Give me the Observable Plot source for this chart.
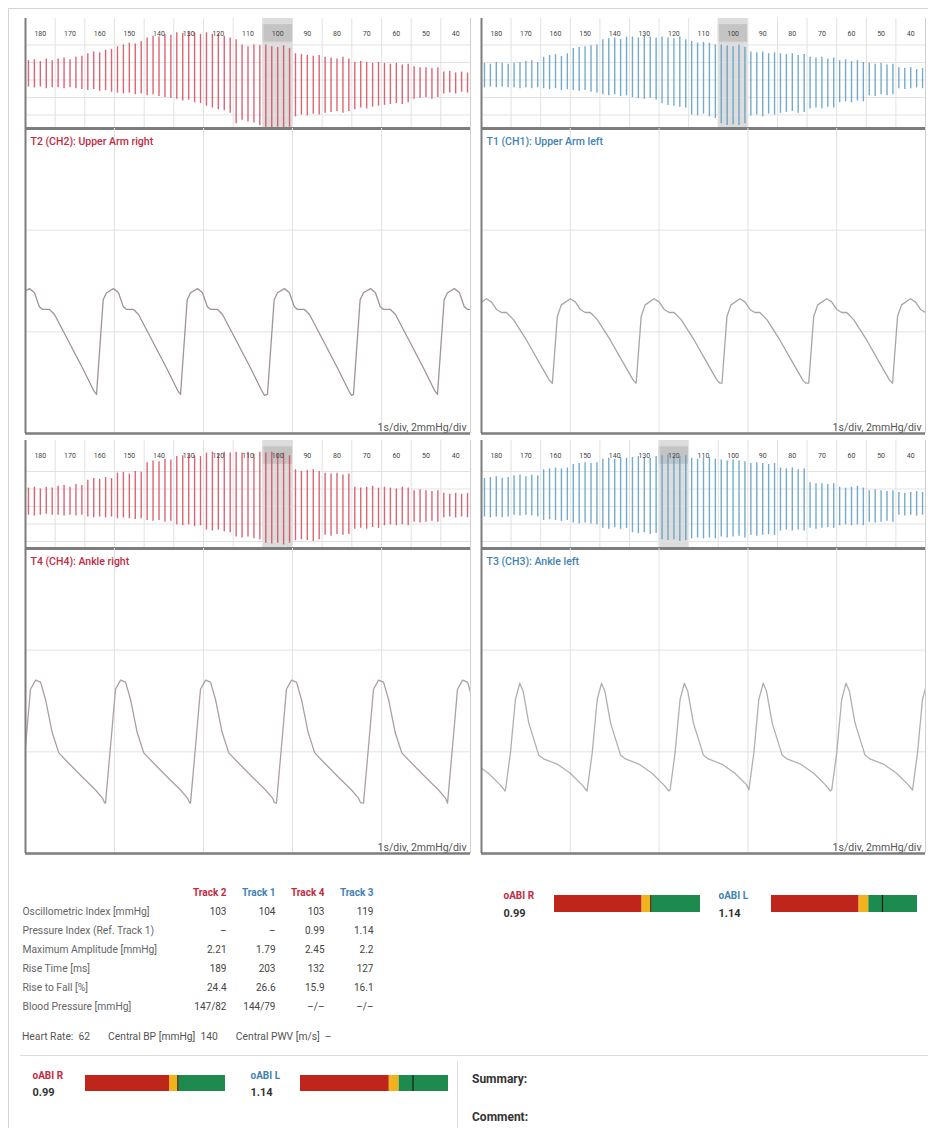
<!DOCTYPE html>
<html><head><meta charset="utf-8">
<script src="https://cdn.jsdelivr.net/npm/d3@7"></script>
<script src="https://cdn.jsdelivr.net/npm/@observablehq/plot@0.6"></script>
<style>
body{margin:0;background:#fff;font-family:Roboto,"Open Sans",sans-serif;}
#page{position:relative;width:928px;height:1128px;overflow:hidden;background:#fff;}
.abs{position:absolute;}
.txt{position:absolute;white-space:nowrap;}
</style></head><body><div id="page"></div>
<script>
// ---------------- DATA ----------------
const cuffLabels = [180,170,160,150,140,130,120,110,100,90,80,70,60,50,40];
const cuffBounds = [175,165,155,145,135,125,115,105,95,85,75,65,55,45];
const cuffRange = [185,35];
const stripGrid = [-2,-1,0,1,2];
const waveGridSec = [1,2,3,4];
const waveGridMmHg = [2,4];
const scaleText = "1s/div, 2mmHg/div";

const titles = ["T2 (CH2): Upper Arm right","T1 (CH1): Upper Arm left","T4 (CH4): Ankle right","T3 (CH3): Ankle left"];

// oscillogram pulse envelopes (upper / lower deflection per pulse, strip units)
const tlHi = [1.1,1.15,1.05,1.2,1.1, 1.2,1.25,1.15,1.3,1.35, 1.5,1.6,1.55,1.7,1.75, 1.9,2.0,2.1,2.05,2.2, 2.4,2.5,2.45,2.6,2.55, 2.7,2.65,2.75,2.7,2.6, 2.7,2.6,2.65,2.5,2.4, 2.3,2.0,1.9,2.0,1.95, 2.0,1.9,1.85,1.95,1.8, 1.5,1.45,1.4,1.35,1.4, 1.3,1.25,1.2,1.3,1.2, 1.0,1.05,1.0,0.95,1.0, 0.95,0.9,0.95,0.85,0.9, 0.75,0.7,0.7,0.65,0.7, 0.45,0.5,0.4,0.45,0.4];
const tlLo = [-0.4,-0.45,-0.4,-0.5,-0.45, -0.45,-0.5,-0.45,-0.5,-0.55, -0.6,-0.55,-0.65,-0.6,-0.7, -0.75,-0.8,-0.75,-0.85,-0.8, -0.9,-0.85,-0.95,-1.0,-1.05, -1.1,-1.2,-1.15,-1.3,-1.35, -1.5,-1.6,-1.7,-1.75,-1.9, -2.5,-2.3,-2.4,-2.45,-2.6, -2.7,-2.75,-2.7,-2.75,-2.7, -2.1,-2.0,-2.05,-1.95,-2.0, -1.9,-1.85,-1.8,-1.9,-1.8, -1.7,-1.6,-1.65,-1.55,-1.5, -1.45,-1.4,-1.35,-1.4,-1.3, -1.1,-1.05,-1.0,-1.1,-1.0, -0.8,-0.75,-0.8,-0.7,-0.75];
const trHi = [0.95,0.9,1.0,0.95,0.9, 0.95,1.0,1.05,1.1,1.0, 1.3,1.4,1.45,1.35,1.5, 1.8,1.85,1.9,1.95,2.0, 2.3,2.35,2.4,2.3,2.45, 2.45,2.4,2.5,2.45,2.4, 2.45,2.4,2.35,2.45,2.3, 2.2,2.1,2.15,2.1,2.0, 2.0,1.95,1.9,2.0,1.85, 1.6,1.55,1.6,1.5,1.55, 1.5,1.45,1.5,1.4,1.45, 1.3,1.25,1.3,1.2,1.25, 1.1,1.15,1.05,1.1,1.0, 0.95,0.9,0.95,0.85,0.9, 0.7,0.65,0.7,0.6,0.65];
const trLo = [-0.45,-0.4,-0.45,-0.4,-0.45, -0.45,-0.5,-0.45,-0.5,-0.45, -0.5,-0.55,-0.5,-0.6,-0.55, -0.6,-0.65,-0.6,-0.7,-0.75, -0.85,-0.9,-0.85,-0.95,-0.9, -1.0,-1.05,-1.1,-1.05,-1.15, -1.35,-1.45,-1.5,-1.55,-1.6, -2.0,-2.05,-1.95,-2.1,-2.2, -2.5,-2.6,-2.55,-2.6,-2.5, -2.05,-2.0,-2.1,-1.95,-2.0, -1.9,-1.85,-1.8,-1.9,-1.85, -1.65,-1.6,-1.65,-1.55,-1.6, -1.3,-1.25,-1.3,-1.2,-1.25, -0.9,-0.95,-0.85,-0.9,-0.85, -0.5,-0.55,-0.5,-0.45,-0.5];
const blHi = [1.05,1.1,1.0,1.1,1.05, 1.15,1.2,1.1,1.25,1.2, 1.5,1.6,1.55,1.65,1.6, 1.9,1.95,1.85,2.0,1.95, 2.5,2.6,2.55,2.7,2.65, 2.85,2.9,2.95,2.9,2.85, 3.05,3.1,3.0,3.1,3.05, 3.1,3.05,3.1,3.0,3.1, 3.05,3.1,3.0,3.05,2.9, 2.1,2.0,2.05,2.1,2.0, 1.9,1.85,1.9,1.8,1.85, 1.1,1.05,1.1,1.15,1.05, 1.1,1.05,1.0,1.1,1.05, 0.9,0.95,0.9,0.85,0.9, 0.75,0.7,0.75,0.7,0.75];
const blLo = [-0.5,-0.55,-0.5,-0.45,-0.5, -0.5,-0.55,-0.5,-0.55,-0.5, -0.6,-0.65,-0.6,-0.65,-0.6, -0.7,-0.65,-0.7,-0.75,-0.7, -0.8,-0.85,-0.8,-0.9,-0.85, -1.05,-1.1,-1.05,-1.15,-1.1, -1.35,-1.4,-1.35,-1.45,-1.5, -1.75,-1.8,-1.75,-1.85,-1.9, -2.1,-2.15,-2.1,-2.2,-2.1, -1.95,-1.9,-1.95,-2.0,-1.9, -1.65,-1.7,-1.6,-1.65,-1.6, -1.3,-1.25,-1.3,-1.2,-1.25, -1.1,-1.05,-1.1,-1.05,-1.1, -0.9,-0.95,-0.9,-0.85,-0.9, -0.65,-0.6,-0.65,-0.6,-0.65];
const brHi = [1.6,1.65,1.7,1.6,1.65, 1.75,1.8,1.7,1.8,1.75, 2.1,2.15,2.2,2.15,2.2, 2.4,2.45,2.5,2.45,2.5, 2.7,2.75,2.7,2.8,2.75, 2.8,2.85,2.8,2.75,2.85, 2.9,2.95,2.9,2.85,2.9, 2.75,2.7,2.75,2.8,2.7, 2.65,2.6,2.65,2.6,2.55, 2.45,2.5,2.45,2.4,2.45, 2.2,2.15,2.2,2.1,2.15, 1.35,1.3,1.3,1.25,1.3, 1.1,1.05,1.1,1.15,1.05, 0.9,0.95,0.9,0.85,0.9, 0.8,0.75,0.8,0.85,0.8];
const brLo = [-0.6,-0.65,-0.6,-0.65,-0.6, -0.5,-0.55,-0.5,-0.55,-0.6, -0.8,-0.75,-0.8,-0.85,-0.8, -0.95,-1.0,-0.95,-1.0,-1.05, -1.25,-1.3,-1.2,-1.3,-1.25, -1.5,-1.55,-1.5,-1.6,-1.55, -1.9,-1.95,-1.9,-2.0,-1.95, -1.85,-1.8,-1.85,-1.8,-1.85, -1.75,-1.8,-1.75,-1.7,-1.8, -1.65,-1.7,-1.65,-1.6,-1.65, -1.4,-1.35,-1.4,-1.35,-1.4, -1.25,-1.3,-1.25,-1.2,-1.25, -1.1,-1.05,-1.1,-1.05,-1.1, -0.9,-0.95,-0.9,-0.85,-0.9, -0.5,-0.55,-0.5,-0.55,-0.5];

// pulse waveform: one beat shape (s, mmHg) and beat onsets (s)
const tlBeatT = [0,0.075,0.112,0.191,0.247,0.300,0.337,0.416,0.472,0.640,0.798,0.910,0.944];
const tlBeatP = [0.77,2.63,2.77,2.85,2.77,2.50,2.44,2.44,2.34,1.78,1.25,0.85,0.75];
const tlOnsets = [-0.146,0.798,1.742,2.719,3.685,4.629];
const trBeatT = [0,0.056,0.101,0.202,0.258,0.315,0.371,0.427,0.506,0.652,0.798,0.910,0.944];
const trBeatP = [0.99,2.30,2.53,2.65,2.59,2.44,2.38,2.38,2.24,1.84,1.39,1.05,0.99];
const trOnsets = [-0.146,0.798,1.742,2.708,3.685,4.629];
const blBeatT = [0,0.056,0.112,0.169,0.225,0.281,0.356,0.430,0.539,0.697,0.843,0.921,0.944];
const blBeatP = [0.99,2.10,3.23,3.41,3.37,3.03,2.38,1.98,1.78,1.50,1.25,1.09,1.0];
const blOnsets = [-0.056,0.899,1.854,2.820,3.798,4.742];
const brBeatT = [0,0.056,0.112,0.161,0.199,0.262,0.374,0.430,0.581,0.730,0.862,0.918];
const brBeatP = [1.25,1.98,3.03,3.35,3.19,2.57,1.94,1.86,1.76,1.58,1.35,1.23];
const brOnsets = [-0.652,0.270,1.191,2.124,3.011,3.944,4.854];

// table
const tableTracks = ["Track 2","Track 1","Track 4","Track 3"];
const rowLabels = ["Oscillometric Index [mmHg]","Pressure Index (Ref. Track 1)","Maximum Amplitude [mmHg]","Rise Time [ms]","Rise to Fall [%]","Blood Pressure [mmHg]"];
const track2 = ["103","–","2.21","189","24.4","147/82"];
const track1 = ["104","–","1.79","203","26.6","144/79"];
const track4 = ["103","0.99","2.45","132","15.9","–/–"];
const track3 = ["119","1.14","2.2","127","16.1","–/–"];
const heartRate = "62", centralBP = "140", centralPWV = "–";

// oABI
const abiR = 0.99, abiL = 1.14;
const abiZoneFrom = [0,0.9,1.0];
const abiZoneTo = [0.9,1.0,1.5];
const abiZoneColor = ["#c0251c","#f0b31e","#1d8a4e"];
const abiDomain = [0,1.5];

// ---------------- RENDER ----------------
const RED = "#c42a3f", BLUE = "#3f82b4";
const page = document.getElementById("page");
const baseStyle = {fontFamily:"Roboto, 'Open Sans', sans-serif", overflow:"visible", background:"transparent"};
function place(node, left, top){const d=document.createElement("div");d.className="abs";d.style.left=left+"px";d.style.top=top+"px";d.appendChild(node);page.appendChild(d);}
function addText(html, left, top, css){const d=document.createElement("div");d.className="txt";d.style.left=left+"px";d.style.top=top+"px";d.style.cssText+=css;d.innerHTML=html;page.appendChild(d);}
function addLine(left, top, w, h, color){const d=document.createElement("div");d.className="abs";d.style.left=left+"px";d.style.top=top+"px";d.style.width=w+"px";d.style.height=h+"px";d.style.background=color;page.appendChild(d);}

function stripPlot({hi, lo, index, color, width, height, yDomain, labelY}){
  const n = hi.length;
  const pulses = hi.map((h,i)=>({x: cuffRange[0]-(i+0.5)*(cuffRange[0]-cuffRange[1])/n, hi:h, lo:lo[i]}));
  const shade = Math.round(index/10)*10;
  return Plot.plot({
    width, height, margin:0, style:baseStyle,
    x:{domain:cuffRange, axis:null}, y:{domain:yDomain, axis:null},
    marks:[
      Plot.rect([shade], {x1:d=>d+5, x2:d=>d-5, fill:"#dcdcdc"}),
      Plot.rect([shade], {x1:d=>d+5, x2:d=>d-5, y1:()=>labelY-0.5, y2:()=>labelY+0.5, fill:"#c4c4c4"}),
      Plot.ruleX(cuffBounds, {stroke:"#e2e2e2"}),
      Plot.ruleY(stripGrid, {stroke:"#e2e2e2"}),
      Plot.ruleX(pulses, {x:"x", y1:"lo", y2:"hi", stroke:color, strokeWidth:1.4, strokeOpacity:0.85, clip:true}),
      Plot.text(cuffLabels, {x:d=>d, y:()=>labelY, text:d=>String(d), fontSize:7, fill:"#444"}),
      Plot.ruleY([yDomain[0]], {stroke:"#7d7d7d", strokeWidth:3}),
      Plot.ruleX([cuffRange[0]], {stroke:"#7d7d7d", strokeWidth:2}),
      Plot.ruleX([cuffRange[1]], {stroke:"#cfcfcf"})
    ]
  });
}
function beatPoints(bt, bp, onsets){
  const pts=[];
  onsets.forEach((o,i)=>{
    const next = i<onsets.length-1 ? onsets[i+1] : Infinity;
    bt.forEach((t,j)=>{ if (o+t < next-1e-6) pts.push({t:o+t, p:bp[j]}); });
  });
  return pts;
}
function wavePlot({pts, title, titleColor, lineColor, width}){
  return Plot.plot({
    width, height:305, margin:0, style:baseStyle,
    x:{domain:[0,5], axis:null}, y:{domain:[0,6], axis:null},
    marks:[
      Plot.ruleX(waveGridSec, {stroke:"#e2e2e2"}),
      Plot.ruleY(waveGridMmHg, {stroke:"#e2e2e2"}),
      Plot.line(pts, {x:"t", y:"p", stroke:lineColor, strokeWidth:1.3, clip:true}),
      Plot.text([title], {frameAnchor:"top-left", dx:5, dy:9, textAnchor:"start", fill:titleColor, fontSize:10.5, fontWeight:500}),
      Plot.text([scaleText], {frameAnchor:"bottom-right", dx:-4, dy:-3, textAnchor:"end", fill:"#555", fontSize:10.5}),
      Plot.ruleX([0], {stroke:"#7d7d7d", strokeWidth:2}),
      Plot.ruleY([0], {stroke:"#7d7d7d", strokeWidth:2.5}),
      Plot.ruleX([5], {stroke:"#cfcfcf"})
    ]
  });
}
function abiPlot({label, value, labelColor, labelSpace, barWidth, barHeight}){
  const zones = abiZoneFrom.map((f,i)=>({from:f, to:abiZoneTo[i], color:abiZoneColor[i]}));
  return Plot.plot({
    width:labelSpace+barWidth, height:barHeight+20, marginLeft:labelSpace, marginRight:0, marginTop:6, marginBottom:14,
    x:{domain:abiDomain, axis:null}, color:{type:"identity"}, style:baseStyle,
    marks:[
      Plot.barX(zones, {x1:"from", x2:"to", fill:"color"}),
      Plot.ruleX([value], {stroke:"#1a1a1a", strokeWidth:1.2}),
      Plot.text([label], {frameAnchor:"left", dx:-labelSpace, dy:-8, textAnchor:"start", fill:labelColor, fontWeight:700, fontSize:10}),
      Plot.text([value.toFixed(2)], {frameAnchor:"left", dx:-labelSpace, dy:9, textAnchor:"start", fill:"#333", fontWeight:700, fontSize:11})
    ]
  });
}

// page frame
addLine(8,8,920,1,"#d4d4d4");
addLine(8,8,1,1120,"#d4d4d4");

const quads = [
  {left:25, width:445, stripTop:18, stripH:110, yDom:[-2.77,3.51], labelY:2.66, hi:tlHi, lo:tlLo, idx:+track2[0], color:"#d64a5c", title:titles[0], tColor:RED, line:"#a0949a", bt:tlBeatT, bp:tlBeatP, on:tlOnsets, waveTop:128},
  {left:481, width:444, stripTop:18, stripH:110, yDom:[-2.77,3.51], labelY:2.66, hi:trHi, lo:trLo, idx:+track1[0], color:"#5a9cc6", title:titles[1], tColor:BLUE, line:"#a4a6a8", bt:trBeatT, bp:trBeatP, on:trOnsets, waveTop:128},
  {left:25, width:445, stripTop:440, stripH:108, yDom:[-2.4,3.77], labelY:2.91, hi:blHi, lo:blLo, idx:+track4[0], color:"#d64a5c", title:titles[2], tColor:RED, line:"#ad9fa4", bt:blBeatT, bp:blBeatP, on:blOnsets, waveTop:548},
  {left:481, width:444, stripTop:440, stripH:108, yDom:[-2.4,3.77], labelY:2.91, hi:brHi, lo:brLo, idx:+track3[0], color:"#5a9cc6", title:titles[3], tColor:BLUE, line:"#b0b0b2", bt:brBeatT, bp:brBeatP, on:brOnsets, waveTop:548}
];
for (const q of quads){
  place(stripPlot({hi:q.hi, lo:q.lo, index:q.idx, color:q.color, width:q.width, height:q.stripH, yDomain:q.yDom, labelY:q.labelY}), q.left, q.stripTop);
  place(wavePlot({pts:beatPoints(q.bt,q.bp,q.on), title:q.title, titleColor:q.tColor, lineColor:q.line, width:q.width}), q.left, q.waveTop);
}

// table
const trackColors = [RED, BLUE, RED, BLUE];
const trackValues = [track2, track1, track4, track3];
const cells = tableTracks.flatMap((t,j)=>rowLabels.map((r,i)=>({track:t, row:r, value:trackValues[j][i]})));
place(Plot.plot({
  width:400, height:135, margin:0, style:baseStyle,
  x:{type:"point", domain:tableTracks, range:[225,374], padding:0, axis:null},
  y:{type:"point", domain:["header", ...rowLabels], range:[11,126], padding:0, axis:null},
  color:{type:"identity"},
  marks:[
    Plot.text(tableTracks, {x:d=>d, y:()=>"header", fill:(d,i)=>trackColors[i], textAnchor:"end", fontWeight:700, fontSize:10}),
    Plot.text(rowLabels, {y:d=>d, frameAnchor:"left", dx:22, textAnchor:"start", fill:"#666", fontSize:10.3}),
    Plot.text(cells, {x:"track", y:"row", text:"value", textAnchor:"end", fill:"#444", fontSize:10})
  ]
}), 0, 880);

addText(`Heart Rate:&nbsp; ${heartRate}<span style="margin-left:18px">Central BP [mmHg]&nbsp; ${centralBP}</span><span style="margin-left:18px">Central PWV [m/s]&nbsp; ${centralPWV}</span>`, 22, 1030, "font-size:10.3px;color:#555;");

// oABI top
place(abiPlot({label:"oABI R", value:abiR, labelColor:RED, labelSpace:51, barWidth:146, barHeight:17}), 503, 889);
place(abiPlot({label:"oABI L", value:abiL, labelColor:BLUE, labelSpace:53, barWidth:146, barHeight:17}), 718, 889);

// separators
addLine(20,1055,908,1,"#dcdcdc");
addLine(457,1062,1,66,"#dcdcdc");

// oABI bottom
place(abiPlot({label:"oABI R", value:abiR, labelColor:RED, labelSpace:53, barWidth:140, barHeight:16}), 32, 1069);
place(abiPlot({label:"oABI L", value:abiL, labelColor:BLUE, labelSpace:50, barWidth:148, barHeight:16}), 250, 1069);

addText("Summary:", 472, 1072, "font-size:12px;font-weight:700;color:#333;");
addText("Comment:", 472, 1110, "font-size:12px;font-weight:700;color:#333;");
</script></body></html>
